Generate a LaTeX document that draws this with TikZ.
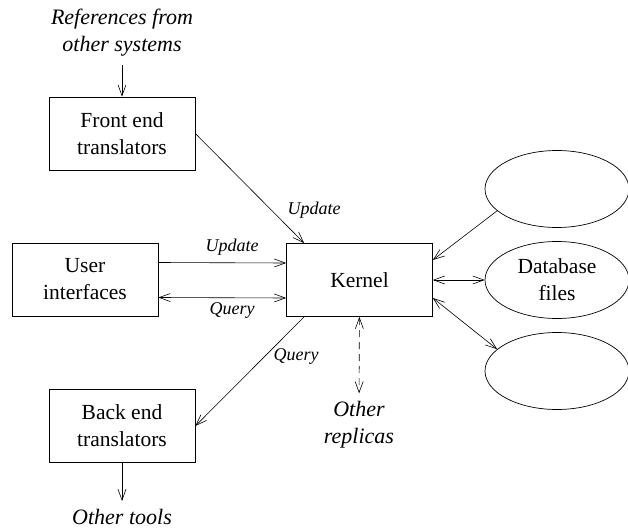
\documentclass[tikz,border=0pt]{standalone}
\usepackage{fontspec}
\setmainfont{Liberation Serif}
\usetikzlibrary{arrows.meta,shapes.geometric}
\tikzset{
  box/.style={draw, line width=0.7pt, minimum width=146pt, minimum height=73pt,
    align=center, font=\fontsize{21.5}{27}\selectfont},
  store/.style={draw, ellipse, line width=0.7pt, minimum width=144pt, minimum height=77pt,
    align=center, font=\fontsize{21.5}{27}\selectfont},
  note/.style={align=center, inner ysep=8pt, font=\fontsize{22}{27}\selectfont\itshape},
  lbl/.style={inner sep=0pt, font=\fontsize{18}{22}\selectfont\itshape},
  flow/.style={-{Straight Barb[length=11pt,width=8pt]}, line width=0.6pt},
  both/.style={{Straight Barb[length=11pt,width=8pt]}-{Straight Barb[length=11pt,width=8pt]}, line width=0.6pt},
}
\begin{document}
\begin{tikzpicture}[x=1pt,y=-1pt]
  \useasboundingbox (0,0) rectangle (628,529);
  \node[note] (refs) at (122,33) {References from\\other systems};
  \node[box] (front) at (122,133.5) {Front end\\translators};
  \node[box] (user) at (85,279.5) {User\\interfaces};
  \node[box] (kernel) at (359.5,280) {Kernel};
  \node[box] (back) at (122,426) {Back end\\translators};
  \node[note] (tools) at (122,517) {Other tools};
  \node[note] (replicas) at (359,425) {Other\\replicas};
  \node[store] (db1) at (557,189) {};
  \node[store] (db) at (557,280) {Database\\files};
  \node[store] (db3) at (557,371) {};
  \draw [flow] (refs) -- (front);
  \draw [flow] (front.east) -- ([xshift=18pt]kernel.north west);
  \draw [flow] ([yshift=17pt]user.east) -- ([yshift=17pt]kernel.west);
  \draw [both] ([yshift=-18pt]user.east) -- ([yshift=-18pt]kernel.west);
  \draw [flow] ([xshift=18pt]kernel.south west) -- (back.east);
  \draw [flow] (back) -- (tools);
  \draw [both, dash pattern=on 7pt off 5pt] (kernel) -- (replicas);
  \draw [flow] (db1.200) -- ([yshift=20pt]kernel.east);
  \draw [both] (kernel.east) -- (db.west);
  \draw [both] ([yshift=-18pt]kernel.east) -- (db3.160);
  % labels on the connectors
  \node[lbl] (upd1) at (314,210) {Update};
  \node[lbl] (upd2) at (232,247) {Update};
  \node[lbl] (qry1) at (232,310) {Query};
  \node[lbl] (qry2) at (296,356) {Query};
\end{tikzpicture}
\end{document}
